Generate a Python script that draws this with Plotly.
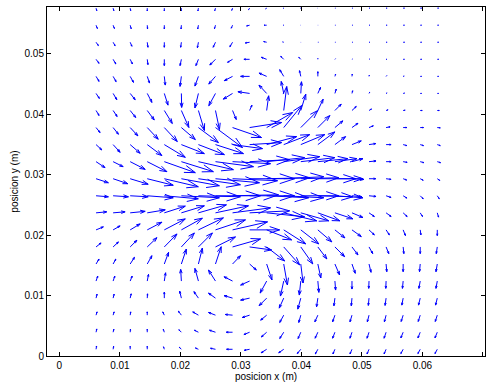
import numpy as np
import plotly.graph_objects as go

# grid positions (m)
x_pos = [0.00606, 0.00888, 0.0117, 0.01452, 0.01734, 0.02016, 0.02298, 0.0258, 0.02862,
         0.03144, 0.03426, 0.03708, 0.0399, 0.04272, 0.04554, 0.04836, 0.05118, 0.054,
         0.05682, 0.05964, 0.06246]
# rows listed from top to bottom
y_pos = [0.05751, 0.05469, 0.05187, 0.04905, 0.04623, 0.04341, 0.04059, 0.03777, 0.03495,
         0.03213, 0.02931, 0.02649, 0.02367, 0.02085, 0.01803, 0.01521, 0.01239, 0.00957,
         0.00675, 0.00393, 0.00111]

# horizontal velocity component (arbitrary units), rows top -> bottom
u_rows = [
    [0.7, 0.7, 0.5, 0, 0, -0.2, -0.5, -0.7, -0.8, -1, -1, -0.7, -0.5, -0.3, 0.5, 0.7, 0.8, 1, 1.2, 1.2, 1.2],
    [1.3, 1.3, 1, 0.3, 0, -0.3, -0.7, -1, -1.3, -3, -2.5, -0.7, -0.3, 0.3, 0.5, 0.7, 0.8, 1, 1.2, 1.2, 1.2],
    [2.3, 2, 1.7, 0.7, 0, -0.7, -1, -2.3, -2.7, -4.3, -3, -1, 0, 0.5, 0.5, 0.7, 0.8, 1, 1.3, 1.3, 1.3],
    [3, 2.7, 2.3, 0.7, 0, -1.3, -2.5, -5.7, -5, -5.7, -5.3, -3, -2, 0, 0.5, 0.5, 0.7, 0.9, 1.2, 1.4, 1.4],
    [3, 3, 3.3, 2.3, 1, -1.3, -3.5, -6.7, -8.3, -9, -7.7, -4, -1.3, 0, 0.7, 0.3, 0.3, 0.7, 1, 1.3, 1.3],
    [3.3, 3.7, 5, 4.7, 3.7, 0.3, -3.5, -6.7, -9.3, -11.7, -7.7, -2.5, 0.7, 2.7, 1.3, 0.7, 0.7, 1, 1.3, 1.3, 1.3],
    [3, 4, 5.5, 7, 8, 7.5, 6, 4, 3.7, 2.3, 2, 3, 5, 5.3, 6.3, 4.3, 2.5, 2, 2, 2, 2],
    [4, 5.3, 7.7, 11, 13, 14, 20, 27, 29, 32, 26, 18, 17, 12, 8, 6, 4.3, 4, 3.7, 3.3, 3],
    [5.7, 7, 10, 14.7, 21, 23, 26, 28, 30, 32, 30, 26, 24, 17, 10.7, 9.3, 6.7, 5, 3.7, 3.3, 3],
    [9, 10, 15, 19.7, 31, 32, 35, 38, 38, 40, 38, 36, 34, 30, 22, 11, 7, 5, 4, 3.7, 3.3],
    [12.3, 14.7, 18, 26, 34, 38, 42, 44, 45, 45, 43, 40, 38, 38, 28, 12, 6.7, 5, 3.5, 3, 2.5],
    [12.3, 15.3, 18, 26, 34, 38, 42, 45, 46, 45, 42, 40, 38, 35, 28, 10, 7, 5, 3.7, 3, 2],
    [10.7, 12, 15, 18, 21, 23, 28, 33, 38, 40, 38, 33, 28, 22, 18, 11, 5.3, 5, 4, 2.3, 1.3],
    [7.3, 7, 10, 14.7, 21, 21, 25, 30, 35, 30, 25, 22, 18, 14, 10, 9.3, 5.3, 3.3, 2.3, 0.7, 0],
    [5, 5.3, 6.7, 9.7, 12.7, 13, 14, 20, 28, 22, 18, 16, 12, 9, 9.7, 6, 3.7, 2.7, 0.7, 0, -1],
    [3, 2.7, 4.3, 4.7, 4.3, 5, 4, 5.7, 8, 6.7, 5.3, 3.7, 2.3, 3, 4.7, 3.3, 2, 0.7, 0, -0.7, -1.3],
    [1.7, 1.7, 2, 1.3, 1.3, -0.7, -3.5, -7, -8.5, -9, -6.5, -3.3, -1.5, 1, 0.7, 0, -0.3, -0.3, -0.7, -1.3, -1.3],
    [1, 1, 1, 0.3, 0, -1.7, -4.5, -7, -8.5, -9, -7.5, -4.5, -3, -1.3, -1, -0.7, -0.7, -1, -1.3, -1.7, -1.7],
    [1, 1, 0.5, 0, -1.5, -3, -5.7, -7, -7.3, -7.3, -6, -4, -2, -3, -2.3, -2, -1.7, -1.7, -2, -2, -2],
    [0.7, 0.7, 0.3, 0, -1, -2.5, -4, -6, -6.3, -5.7, -5.3, -4, -2.7, -2.7, -2.3, -2, -2, -2, -2.3, -2.3, -2.3],
    [0.5, 0.5, 0, 0, -0.8, -2, -3, -5, -6, -5.3, -5.5, -5, -3.5, -2.5, -2, -2, -2, -2, -2.3, -2.3, -2.3],
]

# vertical velocity component (arbitrary units), rows top -> bottom
v_rows = [
    [-2.5, -2.5, -2.5, -2.7, -2.7, -2.7, -2.7, -2.5, -2.2, -1.5, -0.7, -0.3, 0, 0, 0, 0, 0, 0, 0, 0, 0],
    [-3.3, -3.3, -3.5, -3.7, -3.7, -3.7, -3.7, -3.5, -3, -0.7, 0, 0, 0, 0, 0, 0, 0, 0, 0, 0, 0],
    [-3.3, -3.5, -4, -5, -5, -5, -5.5, -5, -4.5, -0.7, 0.7, 0.3, 0.3, 0, 0, 0, 0, 0, 0, 0, 0],
    [-4, -4.7, -4.7, -5.3, -6.3, -6.3, -6.3, -5.7, -3, 0, 2, 3, 2, 1, 0.5, 0.3, 0.3, 0, 0, 0, 0],
    [-5, -5.3, -6, -6.7, -8.7, -10, -9.7, -7.7, -4.3, 0, 3.3, 6.7, 5.7, 4.7, 2.3, 2.3, 1.3, 0.7, 0.3, 0, 0],
    [-5, -6.3, -6.3, -9, -11.7, -14, -14.5, -12.3, -5.7, 1.7, 8.3, 12, 11.7, 6, 4.3, 2.7, 1.3, 0.5, 0.3, 0, 0],
    [-5, -6, -7, -9.5, -13, -17, -20, -19, -9, 5.3, 14.7, 24, 16.3, 11.3, 6.3, 4, 1.5, 0.7, 0.3, 0, 0],
    [-5, -6.7, -8.3, -11.7, -14, -12, -15, -20, -10, 5, 15, 22, 17, 12, 6.7, 4.3, 1.7, 0.7, 0, 0, -0.3],
    [-5.3, -7.7, -8.7, -11, -12.7, -9, -10, -9, -4, 2, 8, 10, 10, 12.7, 8, 3.7, 1, 0, -1, -1, -1],
    [-6, -5, -7.7, -10, -11, -10, -8, -5, -2, 2, 4, 5, 4, 3, 3, 3, 0.7, 0, -0.7, -1, -1],
    [-4, -5, -5.5, -6.5, -8, -7, -6, -4, -2, 0, 1, 2, 1, 0, 0, -0.7, 0, -0.7, -1.3, -1.5, -1.7],
    [-1, -1, -1, -2, -3, -2, -1, 0, 1, 0, -2, -2, 0, -1, -2, -1, -0.7, -1.7, -2.3, -3, -3],
    [1, 1, 1.5, 3, 6.7, 7, 8, 7, 5, 2, -4, -8, -8, -8, -6, -4.7, -3.7, -3.7, -3.7, -3.7, -4.3],
    [3, 4, 6, 7.7, 11, 11.7, 12, 10, 8, 0, -10, -14, -14, -12, -8, -6.7, -5, -5, -5.7, -5, -5.7],
    [4, 5, 6.7, 9.3, 13, 14, 14, 10, 8, -3, -14, -18, -17, -12, -9.7, -8, -6.7, -6.7, -6.7, -6.7, -6.7],
    [5, 5, 6.7, 8.3, 11.7, 15, 16, 17.3, 8.3, -6, -16, -21, -19, -14, -11, -9.3, -8.3, -7.7, -7.7, -7.7, -7.7],
    [5, 5, 5, 6.7, 8.3, 11.7, 12.7, 11, 4.3, -4, -12, -15, -14, -11.3, -9, -8, -7.3, -7.3, -7.3, -7.3, -7.3],
    [4, 4, 4.3, 4.3, 6, 7, 6.5, 5, 2.5, -2, -7.5, -10, -11, -8.7, -7.7, -7.7, -7.3, -7.3, -7, -7, -7],
    [3.3, 3.3, 3.3, 3.3, 3.3, 4, 3.3, 2.7, 0.7, -2.3, -5, -7.3, -7.3, -6.7, -6.7, -6.7, -6.7, -6.7, -6.3, -6.3, -6.3],
    [3.3, 3, 3, 3, 3, 2.5, 2, 2, 0, -2.3, -4.7, -6.3, -6.3, -6, -6, -6, -6, -6, -5.7, -5.7, -5.7],
    [3.3, 3, 3, 3, 2.5, 2, 1.3, 1, 0, -1, -3.5, -3.5, -4.3, -4.7, -4.7, -4.7, -4.7, -4.7, -4.3, -4.3, -4.3],
]

x_ticks = [0, 0.01, 0.02, 0.03, 0.04, 0.05, 0.06, 0.07]
x_ticklabels = ["0", "0.01", "0.02", "0.03", "0.04", "0.05", "0.06", "0.07"]
y_ticks = [0, 0.01, 0.02, 0.03, 0.04, 0.05]
y_ticklabels = ["0", "0.01", "0.02", "0.03", "0.04", "0.05"]

# quiver geometry (MATLAB-style arrowheads)
SCALE = 0.01 / 60.5
ALPHA, BETA = 0.33, 0.33
X, Y = np.meshgrid(np.array(x_pos), np.array(y_pos))
U = np.array(u_rows, dtype=float) * SCALE
V = np.array(v_rows, dtype=float) * SCALE

xs, ys = [], []
for x0, y0, u, v in zip(X.ravel(), Y.ravel(), U.ravel(), V.ravel()):
    xe, ye = x0 + u, y0 + v
    xs += [x0, xe, None]
    ys += [y0, ye, None]
    xs += [xe - ALPHA * (u + BETA * v), xe, xe - ALPHA * (u - BETA * v), None]
    ys += [ye - ALPHA * (v - BETA * u), ye, ye - ALPHA * (v + BETA * u), None]

fig = go.Figure()
fig.add_trace(go.Scatter(x=xs, y=ys, mode="lines",
                         line=dict(color="#0000ff", width=1),
                         hoverinfo="skip", showlegend=False))

font = dict(family="Liberation Sans, Arial, Helvetica, sans-serif", size=10, color="black")
axis_common = dict(showgrid=False, zeroline=False, showline=True, linecolor="black",
                   linewidth=1, mirror="ticks", ticks="inside", ticklen=4, tickwidth=1,
                   tickcolor="black", tickfont=font, automargin=False)

fig.update_layout(
    width=492, height=388,
    margin=dict(l=47, r=7, t=7, b=32, autoexpand=False),
    paper_bgcolor="white", plot_bgcolor="white",
    font=font,
    xaxis=dict(range=[-0.00205, 0.07035], tickvals=x_ticks, ticktext=x_ticklabels,
               title=dict(text="posicion x (m)", font=font, standoff=2), **axis_common),
    yaxis=dict(range=[0, 0.0577], tickvals=y_ticks, ticktext=y_ticklabels,
               title=dict(text="posicion y (m)", font=font, standoff=4), **axis_common),
)

fig.write_html("out.html", config={"displayModeBar": False},
               post_script="document.body.style.margin='0';document.body.style.overflow='hidden';")
